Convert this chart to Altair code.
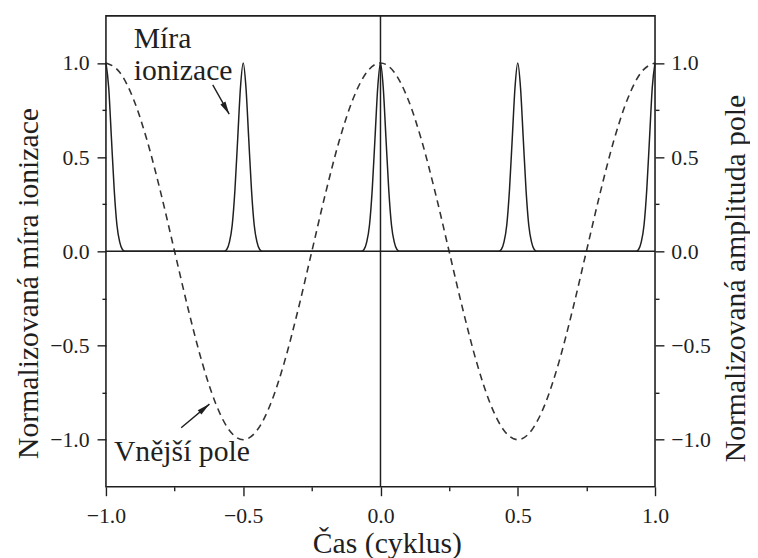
import altair as alt
import pandas as pd

# ---- data ----
field_t = [-1.00, -0.95, -0.90, -0.85, -0.80, -0.75, -0.70, -0.65, -0.60, -0.55,
           -0.50, -0.45, -0.40, -0.35, -0.30, -0.25, -0.20, -0.15, -0.10, -0.05,
           0.00, 0.05, 0.10, 0.15, 0.20, 0.25, 0.30, 0.35, 0.40, 0.45,
           0.50, 0.55, 0.60, 0.65, 0.70, 0.75, 0.80, 0.85, 0.90, 0.95, 1.00]
field_v = [1.000, 0.951, 0.809, 0.588, 0.309, 0.000, -0.309, -0.588, -0.809, -0.951,
           -1.000, -0.951, -0.809, -0.588, -0.309, 0.000, 0.309, 0.588, 0.809, 0.951,
           1.000, 0.951, 0.809, 0.588, 0.309, 0.000, -0.309, -0.588, -0.809, -0.951,
           -1.000, -0.951, -0.809, -0.588, -0.309, 0.000, 0.309, 0.588, 0.809, 0.951, 1.000]

ion_t = [-1.00, -0.99, -0.98, -0.97, -0.96, -0.95, -0.94, -0.93,
         -0.57, -0.56, -0.55, -0.54, -0.53, -0.52, -0.51, -0.50, -0.49, -0.48, -0.47, -0.46, -0.45, -0.44, -0.43,
         -0.07, -0.06, -0.05, -0.04, -0.03, -0.02, -0.01, 0.00, 0.01, 0.02, 0.03, 0.04, 0.05, 0.06, 0.07,
         0.43, 0.44, 0.45, 0.46, 0.47, 0.48, 0.49, 0.50, 0.51, 0.52, 0.53, 0.54, 0.55, 0.56, 0.57,
         0.93, 0.94, 0.95, 0.96, 0.97, 0.98, 0.99, 1.00]
ion_v = [1.00, 0.87, 0.60, 0.33, 0.14, 0.05, 0.01, 0.00,
         0.00, 0.01, 0.05, 0.14, 0.33, 0.60, 0.87, 1.00, 0.87, 0.60, 0.33, 0.14, 0.05, 0.01, 0.00,
         0.00, 0.01, 0.05, 0.14, 0.33, 0.60, 0.87, 1.00, 0.87, 0.60, 0.33, 0.14, 0.05, 0.01, 0.00,
         0.00, 0.01, 0.05, 0.14, 0.33, 0.60, 0.87, 1.00, 0.87, 0.60, 0.33, 0.14, 0.05, 0.01, 0.00,
         0.00, 0.01, 0.05, 0.14, 0.33, 0.60, 0.87, 1.00]

x_ticks = [-1.0, -0.75, -0.5, -0.25, 0.0, 0.25, 0.5, 0.75, 1.0]
y_ticks = [-1.0, -0.75, -0.5, -0.25, 0.0, 0.25, 0.5, 0.75, 1.0]

note_text = ["Míra", "ionizace", "Vnější pole"]
note_t = [-0.899, -0.899, -0.971]
note_v = [1.079, 0.911, -1.111]

arrow_t1 = [-0.611, -0.726]
arrow_v1 = [0.884, -0.937]
arrow_t2 = [-0.551, -0.623]
arrow_v2 = [0.728, -0.811]
arrow_angle = [150.7, 50.1]

zero = [0.0]

# ---- chart ----
FONT = "Liberation Serif"
INK = "#1f1f1f"
XD = [-1, 1]
YD = [-1.25, 1.25]
major = "abs(datum.value*2 - round(datum.value*2)) < 0.01"
tick_size = {"condition": {"test": major, "value": 9}, "value": 4}
label_expr = f"{major} ? datum.label : ''"

field_df = pd.DataFrame({"t": field_t, "v": field_v})
ion_df = pd.DataFrame({"t": ion_t, "v": ion_v})
note_df = pd.DataFrame({"t": note_t, "v": note_v, "txt": note_text})
arrow_df = pd.DataFrame({"t1": arrow_t1, "v1": arrow_v1, "t2": arrow_t2,
                         "v2": arrow_v2, "a": arrow_angle})
zero_df = pd.DataFrame({"z": zero})

xscale = alt.Scale(domain=XD, nice=False, zero=False)
yscale = alt.Scale(domain=YD, nice=False, zero=False)

x_axis = alt.Axis(values=x_ticks, format=".1f", labelExpr=label_expr, tickSize=tick_size,
                  labelPadding=10, title="Čas (cyklus)", titleX=284, titleY=66,
                  titleBaseline="alphabetic", titleAlign="center", labelFlush=False)
left_axis = alt.Axis(values=y_ticks, format=".1f", labelExpr=label_expr, tickSize=tick_size,
                     labelPadding=8, orient="left", title="Normalizovaná míra ionizace",
                     titleAngle=270, titleX=-69, titleY=270, titleAlign="center",
                     titleBaseline="alphabetic")
right_axis = alt.Axis(values=y_ticks, format=".1f", labelExpr=label_expr, tickSize=tick_size,
                      labelPadding=7, orient="right", title="Normalizovaná amplituda pole",
                      titleAngle=270, titleX=90, titleY=265, titleAlign="center",
                      titleBaseline="alphabetic")


def X(field):
    return alt.X(field, scale=xscale, axis=x_axis)


vline = alt.Chart(zero_df).mark_rule(color=INK, strokeWidth=1.5).encode(
    x=X("z:Q"))
hline = alt.Chart(zero_df).mark_rule(color=INK, strokeWidth=1.5).encode(
    y=alt.Y("z:Q", scale=yscale, axis=None))

field_line = alt.Chart(field_df).mark_line(
    color="#333333", strokeWidth=1.6, strokeDash=[7, 5], interpolate="monotone"
).encode(
    x=X("t:Q"),
    y=alt.Y("v:Q", scale=yscale, axis=left_axis),
)

ion_line = alt.Chart(ion_df).mark_line(
    color=INK, strokeWidth=1.5, interpolate="monotone"
).encode(
    x=X("t:Q"),
    y=alt.Y("v:Q", scale=yscale, axis=right_axis),
)

notes = alt.Chart(note_df).mark_text(
    align="left", baseline="alphabetic", font=FONT, fontSize=30, color=INK
).encode(
    x=X("t:Q"),
    y=alt.Y("v:Q", scale=yscale, axis=None),
    text="txt:N",
)

arrow_shaft = alt.Chart(arrow_df).mark_rule(color=INK, strokeWidth=1.4).encode(
    x=X("t1:Q"),
    y=alt.Y("v1:Q", scale=yscale, axis=None),
    x2="t2:Q",
    y2="v2:Q",
)
arrow_head = alt.Chart(arrow_df).mark_point(
    shape="M0,0L0.45,2L-0.45,2Z", filled=True, size=169, color=INK, opacity=1, strokeWidth=0
).encode(
    x=X("t2:Q"),
    y=alt.Y("v2:Q", scale=yscale, axis=None),
    angle=alt.Angle("a:Q", scale=None),
)

chart = alt.layer(
    field_line, ion_line, vline, hline, notes, arrow_shaft, arrow_head
).resolve_axis(y="independent").properties(
    width=555, height=476,
    autosize=alt.AutoSizeParams(type="none"),
    padding={"left": 99, "top": 5, "right": 96, "bottom": 69},
).configure_view(
    stroke=INK, strokeWidth=1.6
).configure_axis(
    labelFont=FONT, titleFont=FONT, labelFontSize=22, titleFontSize=30,
    labelColor=INK, titleColor=INK, titleFontWeight="normal",
    domain=False, grid=False, tickColor=INK, tickWidth=1.4,
    labelOverlap=False, labelBound=False,
)

chart.save("out.html", embed_options={"renderer": "svg", "actions": False})
